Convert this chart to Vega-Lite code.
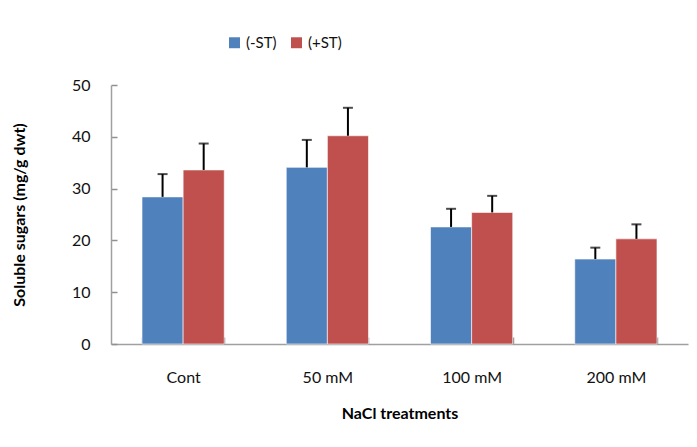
{
  "$schema": "https://vega.github.io/schema/vega-lite/v6.json",
  "width": 577,
  "height": 259,
  "autosize": {"type": "none"},
  "padding": {"left": 111, "top": 85, "right": 9, "bottom": 103},
  "background": "white",
  "config": {
    "font": "Lato",
    "view": {"stroke": null},
    "axis": {"labelFont": "Lato", "titleFont": "Lato", "labelColor": "#111", "titleColor": "#000", "domainColor": "#A0A0A0", "tickColor": "#909090", "grid": false}
  },
  "data": {
    "values": [
      {"trt": "Cont", "grp": "(-ST)", "v": 28.4, "e": 32.8},
      {"trt": "Cont", "grp": "(+ST)", "v": 33.6, "e": 38.7},
      {"trt": "50 mM", "grp": "(-ST)", "v": 34.1, "e": 39.4},
      {"trt": "50 mM", "grp": "(+ST)", "v": 40.2, "e": 45.6},
      {"trt": "100 mM", "grp": "(-ST)", "v": 22.6, "e": 26.1},
      {"trt": "100 mM", "grp": "(+ST)", "v": 25.4, "e": 28.6},
      {"trt": "200 mM", "grp": "(-ST)", "v": 16.4, "e": 18.6},
      {"trt": "200 mM", "grp": "(+ST)", "v": 20.3, "e": 23.1}
    ]
  },
  "encoding": {
    "x": {
      "field": "trt", "type": "nominal", "sort": null,
      "scale": {"paddingInner": 0.43, "paddingOuter": 0.215},
      "axis": {"title": "NaCl treatments", "titleFontSize": 16, "titleFontWeight": "bold", "titlePadding": 20, "labelAngle": 0, "labelFontSize": 16, "labelPadding": 32, "tickBand": "extent", "tickSize": -7, "tickWidth": 1.5, "domainWidth": 1.5}
    },
    "xOffset": {"field": "grp", "type": "nominal", "sort": ["(-ST)", "(+ST)"]}
  },
  "layer": [
    {
      "mark": {"type": "bar", "stroke": "white", "strokeWidth": 0.6},
      "encoding": {
        "y": {
          "field": "v", "type": "quantitative",
          "scale": {"domain": [0, 50]},
          "axis": {"title": "Soluble sugars (mg/g dwt)", "titleFontSize": 16, "titleFontWeight": "bold", "titlePadding": 44, "values": [0, 10, 20, 30, 40, 50], "labelOverlap": false, "labelFontSize": 16, "labelPadding": 27, "tickSize": -6, "tickWidth": 1.5, "domainWidth": 1.5}
        },
        "color": {
          "field": "grp", "type": "nominal", "sort": ["(-ST)", "(+ST)"],
          "scale": {"domain": ["(-ST)", "(+ST)"], "range": ["#4F81BD", "#C0504D"]},
          "legend": {"title": null, "orient": "none", "legendX": 116, "legendY": -50, "direction": "horizontal", "symbolType": "square", "symbolSize": 120, "symbolStrokeWidth": 0, "labelFontSize": 15, "labelFont": "Lato", "labelColor": "#111", "columnPadding": 12, "labelOffset": 4}
        }
      }
    },
    {
      "mark": {"type": "rule", "color": "black", "strokeWidth": 2},
      "encoding": {"y": {"field": "v", "type": "quantitative"}, "y2": {"field": "e"}}
    },
    {
      "mark": {"type": "tick", "color": "black", "thickness": 2, "size": 10},
      "encoding": {"y": {"field": "e", "type": "quantitative"}}
    }
  ]
}
